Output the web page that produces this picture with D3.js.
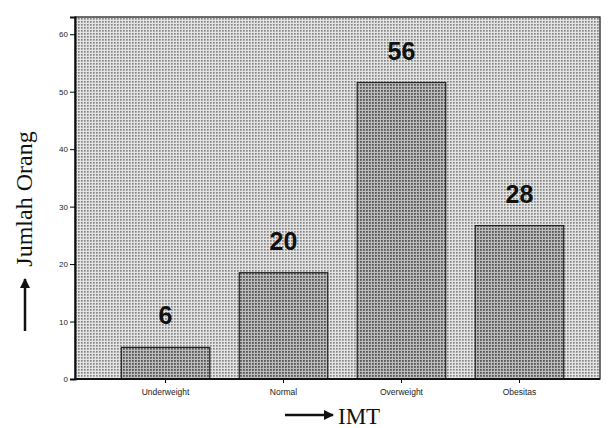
<!DOCTYPE html>
<html>
<head>
<meta charset="utf-8">
<script src="https://cdn.jsdelivr.net/npm/d3@7"></script>
<style>
  body { margin: 0; background: #fff; }
  svg { display: block; }
</style>
</head>
<body>
<svg id="chart"></svg>
<script>
// data
const categories = ["Underweight", "Normal", "Overweight", "Obesitas"];
const barValues = [5.5, 18.5, 51.6, 26.7];   // tinggi batang (dibaca dari sumbu)
const countLabels = [6, 20, 56, 28];         // angka di atas batang
const yTicks = [0, 10, 20, 30, 40, 50, 60];

const width = 611, height = 428;
const plot = { left: 75, right: 600, top: 17, bottom: 379 };

const svg = d3.select("#chart")
    .attr("width", width)
    .attr("height", height);

// pola titik seperti hasil cetak
const defs = svg.append("defs");
const bgPat = defs.append("pattern")
    .attr("id", "bgdots").attr("width", 3).attr("height", 3)
    .attr("patternUnits", "userSpaceOnUse");
bgPat.append("rect").attr("width", 3).attr("height", 3).attr("fill", "#e4e4e4");
bgPat.append("rect").attr("width", 1.7).attr("height", 1.7).attr("fill", "#858585");

const barPat = defs.append("pattern")
    .attr("id", "bardots").attr("width", 3).attr("height", 3)
    .attr("patternUnits", "userSpaceOnUse");
barPat.append("rect").attr("width", 3).attr("height", 3).attr("fill", "#bdbdbd");
barPat.append("rect").attr("width", 1.8).attr("height", 1.8).attr("fill", "#555");

// skala
const x = d3.scaleBand()
    .domain(categories)
    .range([80, 605])
    .paddingInner(0.25)
    .paddingOuter(0.35);

const y = d3.scaleLinear()
    .domain([0, 63])
    .range([plot.bottom, plot.top]);

// area plot
svg.append("rect")
    .attr("x", plot.left).attr("y", plot.top)
    .attr("width", plot.right - plot.left)
    .attr("height", plot.bottom - plot.top)
    .attr("fill", "url(#bgdots)")
    .attr("stroke", "#222")
    .attr("stroke-width", 1.3);

// batang
svg.selectAll(".bar")
    .data(categories)
    .enter()
    .append("rect")
    .attr("class", "bar")
    .attr("x", d => x(d))
    .attr("y", (d, i) => y(barValues[i]))
    .attr("width", x.bandwidth())
    .attr("height", (d, i) => y(0) - y(barValues[i]))
    .attr("fill", "url(#bardots)")
    .attr("stroke", "#222")
    .attr("stroke-width", 1.2);

// label angka
svg.selectAll(".label")
    .data(categories)
    .enter()
    .append("text")
    .attr("class", "label")
    .attr("x", d => x(d) + x.bandwidth() / 2)
    .attr("y", (d, i) => y(barValues[i]) - 23)
    .attr("text-anchor", "middle")
    .style("font-family", "Liberation Sans, Arial, sans-serif")
    .style("font-weight", "bold")
    .style("font-size", "25px")
    .attr("fill", "#111")
    .text((d, i) => countLabels[i]);

// sumbu Y
const yAxis = svg.append("g")
    .attr("transform", `translate(${plot.left},0)`)
    .call(d3.axisLeft(y).tickValues(yTicks).tickSize(5).tickPadding(2));
yAxis.select(".domain").attr("stroke", "#111").attr("stroke-width", 2);
yAxis.selectAll("text")
    .style("font-family", "Liberation Sans, Arial, sans-serif")
    .style("font-size", "8px")
    .attr("fill", "#222");

// sumbu X
const xAxis = svg.append("g")
    .attr("transform", `translate(0,${plot.bottom})`)
    .call(d3.axisBottom(x).tickSize(4).tickPadding(6));
xAxis.select(".domain").remove();
svg.append("line")
    .attr("x1", plot.left).attr("x2", plot.right)
    .attr("y1", plot.bottom).attr("y2", plot.bottom)
    .attr("stroke", "#111").attr("stroke-width", 2);
xAxis.selectAll("text")
    .style("font-family", "Liberation Sans, Arial, sans-serif")
    .style("font-size", "8.5px")
    .attr("fill", "#222");

// judul sumbu
defs.append("marker")
    .attr("id", "arrow").attr("viewBox", "0 0 10 10")
    .attr("refX", 9).attr("refY", 5)
    .attr("markerWidth", 4).attr("markerHeight", 4)
    .attr("orient", "auto")
    .append("path").attr("d", "M0,0L10,5L0,10z").attr("fill", "#111");

svg.append("text")
    .attr("transform", "translate(32,199) rotate(-90)")
    .attr("text-anchor", "middle")
    .style("font-family", "Liberation Serif, Times New Roman, serif")
    .style("font-size", "24px")
    .attr("fill", "#111")
    .text("Jumlah Orang");
svg.append("line")
    .attr("x1", 25).attr("x2", 25)
    .attr("y1", 331).attr("y2", 279)
    .attr("stroke", "#111").attr("stroke-width", 2.5)
    .attr("marker-end", "url(#arrow)");

svg.append("line")
    .attr("x1", 285).attr("x2", 333)
    .attr("y1", 415).attr("y2", 415)
    .attr("stroke", "#111").attr("stroke-width", 2.5)
    .attr("marker-end", "url(#arrow)");
svg.append("text")
    .attr("x", 338).attr("y", 424)
    .style("font-family", "Liberation Serif, Times New Roman, serif")
    .style("font-size", "23px")
    .attr("fill", "#111")
    .text("IMT");
</script>
</body>
</html>
